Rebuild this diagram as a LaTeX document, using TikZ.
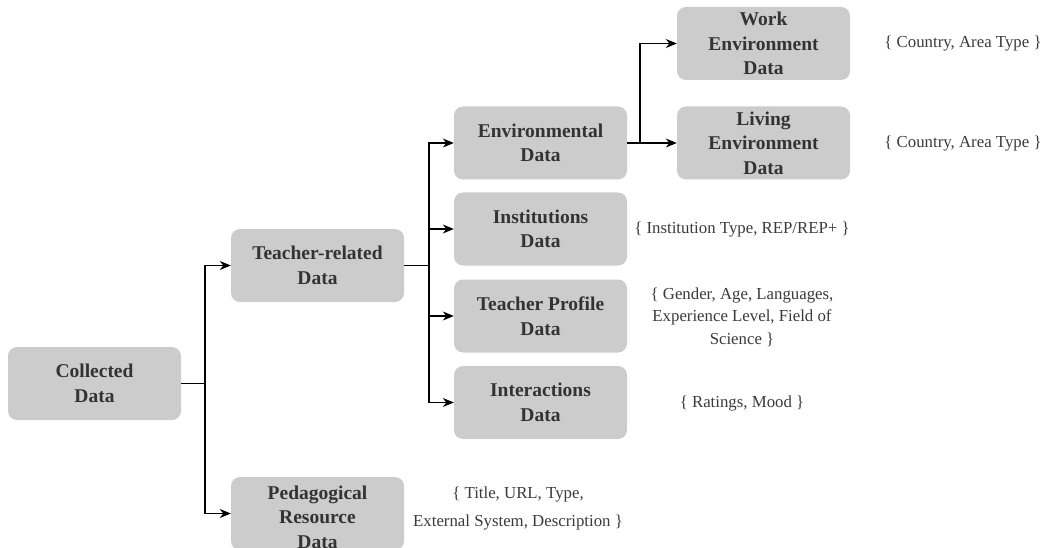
\documentclass[tikz,border=0pt]{standalone}
\usepackage{fontspec}
\setmainfont{Liberation Serif}
\usetikzlibrary{arrows.meta}
\definecolor{boxfill}{HTML}{CCCCCC}
\definecolor{boxtext}{HTML}{333333}
\definecolor{lbltext}{HTML}{3A3A3A}
\begin{document}
\begin{tikzpicture}[x=1pt,y=-1pt,
  databox/.style={fill=boxfill,rounded corners=9pt,minimum width=173pt,minimum height=73pt,
    align=center,text=boxtext,font=\fontsize{19.5}{24.5}\selectfont\bfseries,inner sep=0pt},
  lbl/.style={align=center,text=lbltext,font=\fontsize{16.8}{22.5}\selectfont,inner sep=0pt},
  conn/.style={line width=1.1pt,draw=black},
  arr/.style={conn,-{Stealth[length=11pt,width=9pt,inset=3.5pt]}}]
\useasboundingbox (0,0) rectangle (1046,548);
\node[databox] (col) at (94.5,383.5) {Collected\\Data};
\node[databox] (tea) at (317.5,265.5) {Teacher-related\\Data};
\node[databox] (ped) at (317.5,513.5) {};
\node[databox,fill=none] (pedtxt) at (317.5,517) {Pedagogical\\Resource\\Data};
\node[databox] (env) at (540.5,143) {Environmental\\Data};
\node[databox] (ins) at (540.5,229) {Institutions\\Data};
\node[databox] (pro) at (540.5,316) {Teacher Profile\\Data};
\node[databox] (int) at (540.5,402.5) {Interactions\\Data};
\node[databox] (wrk) at (763.5,43.5) {Work\\Environment\\Data};
\node[databox] (liv) at (763.5,143) {Living\\Environment\\Data};
\node[lbl] (lwrk) at (963,43.5) {\{ Country, Area Type \}};
\node[lbl] (lliv) at (963,143) {\{ Country, Area Type \}};
\node[lbl] (lins) at (742,229) {\{ Institution Type, REP/REP+ \}};
\node[lbl] (lpro) at (742,317) {\{ Gender, Age, Languages,\\Experience Level, Field of\\Science \}};
\node[lbl] (lint) at (742,403) {\{ Ratings, Mood \}};
\node[lbl,font=\fontsize{16.8}{28}\selectfont] (lped) at (518,508) {\{ Title, URL, Type,\\External System, Description \}};
\coordinate (j1) at (205,383.5);
\coordinate (j2) at (429,265.5);
\coordinate (j3) at (640,143);
\draw[conn] (col.east) -- (j1);
\draw[arr] (j1) |- (tea.west);
\draw[arr] (j1) |- (ped.west);
\draw[conn] (tea.east) -- (j2);
\draw[arr] (j2) |- (env.west);
\draw[arr] (j2) |- (ins.west);
\draw[arr] (j2) |- (pro.west);
\draw[arr] (j2) |- (int.west);
\draw[arr] (env.east) -- (liv.west);
\draw[arr] (j3) |- (wrk.west);
\end{tikzpicture}
\end{document}
